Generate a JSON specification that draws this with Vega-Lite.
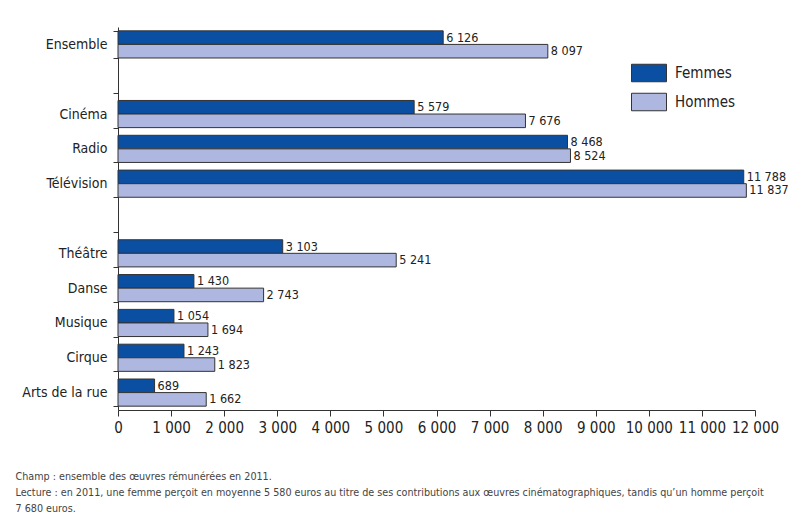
{
  "$schema": "https://vega.github.io/schema/vega-lite/v6.json",
  "width": 637,
  "height": 383,
  "autosize": {"type": "none"},
  "padding": {"left": 118, "top": 27, "right": 40, "bottom": 113},
  "background": "white",
  "config": {
    "font": "DejaVu Sans Condensed",
    "view": {"stroke": null},
    "locale": {"number": {"decimal": ",", "thousands": " ", "grouping": [3], "currency": ["", " €"]}}
  },
  "title": {"text": "En euros", "anchor": "end", "fontSize": 10, "fontWeight": "normal", "fontStyle": "italic", "color": "#444", "offset": 20, "dx": 35},
  "data": {"values": [
    {"cat": "Ensemble", "sexe": "Femmes", "v": 6126},
    {"cat": "Ensemble", "sexe": "Hommes", "v": 8097},
    {"cat": "Cinéma", "sexe": "Femmes", "v": 5579},
    {"cat": "Cinéma", "sexe": "Hommes", "v": 7676},
    {"cat": "Radio", "sexe": "Femmes", "v": 8468},
    {"cat": "Radio", "sexe": "Hommes", "v": 8524},
    {"cat": "Télévision", "sexe": "Femmes", "v": 11788},
    {"cat": "Télévision", "sexe": "Hommes", "v": 11837},
    {"cat": "Théâtre", "sexe": "Femmes", "v": 3103},
    {"cat": "Théâtre", "sexe": "Hommes", "v": 5241},
    {"cat": "Danse", "sexe": "Femmes", "v": 1430},
    {"cat": "Danse", "sexe": "Hommes", "v": 2743},
    {"cat": "Musique", "sexe": "Femmes", "v": 1054},
    {"cat": "Musique", "sexe": "Hommes", "v": 1694},
    {"cat": "Cirque", "sexe": "Femmes", "v": 1243},
    {"cat": "Cirque", "sexe": "Hommes", "v": 1823},
    {"cat": "Arts de la rue", "sexe": "Femmes", "v": 689},
    {"cat": "Arts de la rue", "sexe": "Hommes", "v": 1662}
  ]},
  "encoding": {
    "y": {
      "field": "cat", "type": "nominal",
      "scale": {"domain": ["Ensemble", " ", "Cinéma", "Radio", "Télévision", "  ", "Théâtre", "Danse", "Musique", "Cirque", "Arts de la rue"], "paddingInner": 0.22, "paddingOuter": 0.11},
      "axis": {
        "title": null,
        "labelFontSize": 14, "labelColor": "#222", "labelPadding": 6,
        "tickBand": "extent", "tickSize": 5, "tickColor": "#333", "domainColor": "#333"
      }
    },
    "yOffset": {"field": "sexe", "type": "nominal"},
    "x": {
      "field": "v", "type": "quantitative",
      "scale": {"domain": [0, 12000], "nice": false},
      "axis": {
        "values": [0, 1000, 2000, 3000, 4000, 5000, 6000, 7000, 8000, 9000, 10000, 11000, 12000],
        "format": ",d", "grid": false, "labelFontSize": 15, "labelColor": "#222", "labelPadding": 4,
        "tickSize": 6, "tickColor": "#333", "domainColor": "#333", "labelFlush": false,
        "title": ["Champ : ensemble des œuvres rémunérées en 2011.", "Lecture : en 2011, une femme perçoit en moyenne 5 580 euros au titre de ses contributions aux œuvres cinématographiques, tandis qu’un homme perçoit", "7 680 euros."],
        "titleAnchor": "start", "titleAlign": "left", "titleBaseline": "top", "titleX": -103, "titleY": 61,
        "titleFontSize": 10.7, "titleFontWeight": "normal", "titleColor": "#444", "titleLineHeight": 16
      }
    }
  },
  "layer": [
    {
      "mark": {"type": "bar", "stroke": "#333", "strokeWidth": 1},
      "encoding": {
        "color": {
          "field": "sexe", "type": "nominal",
          "scale": {"domain": ["Femmes", "Hommes"], "range": ["#0b4fa3", "#aeb7df"]},
          "legend": {
            "title": null, "orient": "none", "legendX": 513, "legendY": 28,
            "symbolType": "M-1,-0.5H1V0.5H-1Z", "symbolSize": 1225,
            "symbolStrokeColor": "#333", "symbolStrokeWidth": 1, "symbolOpacity": 1,
            "labelFontSize": 15, "labelColor": "#222", "labelOffset": 8, "rowPadding": -10
          }
        }
      }
    },
    {
      "mark": {"type": "text", "align": "left", "baseline": "middle", "dx": 3, "fontSize": 12.5, "color": "#222"},
      "encoding": {
        "text": {"field": "v", "type": "quantitative", "format": ",d"}
      }
    }
  ]
}
